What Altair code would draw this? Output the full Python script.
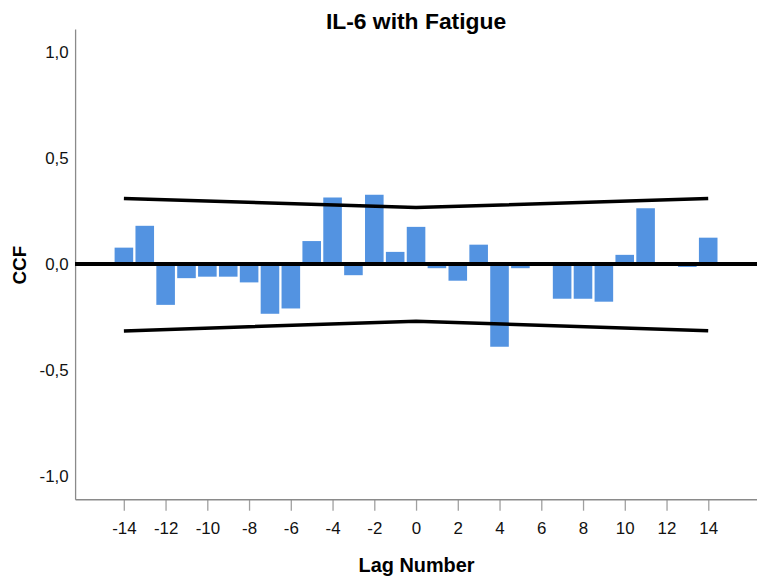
import altair as alt
import pandas as pd

lags = list(range(-14, 15))
ccf = [0.078, 0.181, -0.192, -0.066, -0.059, -0.059, -0.086, -0.234, -0.209,
       0.109, 0.315, -0.052, 0.328, 0.058, 0.176, -0.019, -0.078, 0.092,
       -0.390, -0.019, 0.0, -0.163, -0.163, -0.177, 0.044, 0.264, 0.0,
       -0.013, 0.125]

ci_lags = [-14, 0, 14]
ci_upper = [0.310, 0.267, 0.310]
ci_lower = [-0.315, -0.269, -0.314]

bars_df = pd.DataFrame({"lag": lags, "ccf": ccf})
ci_df = pd.DataFrame({
    "lag": ci_lags + ci_lags,
    "value": ci_upper + ci_lower,
    "bound": ["UCL"] * 3 + ["LCL"] * 3,
})

FONT = "Liberation Sans"

x_scale = alt.Scale(domain=[-16.1, 16.1], nice=False, zero=False)
y_scale = alt.Scale(domain=[-1.109, 1.109], nice=False)

x_axis = alt.Axis(
    values=list(range(-14, 15, 2)),
    title="Lag Number",
    titleFont=FONT, titleFontSize=20, titleFontWeight="bold", titleColor="black",
    titleY=73, titleBaseline="alphabetic",
    labelFont=FONT, labelFontSize=17, labelColor="#111111",
    labelExpr="datum.value + ''",
    labelPadding=10,
    tickSize=11, tickColor="#a0a0a0", tickWidth=1.3,
    domainColor="#8a8a8a", domainWidth=1.3,
    grid=False,
)

y_axis = alt.Axis(
    values=[-1.0, -0.5, 0.0, 0.5, 1.0],
    title="CCF",
    titleFont=FONT, titleFontSize=19, titleFontWeight="bold", titleColor="black",
    titleAngle=270, titleAlign="center", titleBaseline="alphabetic",
    titleX=-50, titleY=237,
    labelFont=FONT, labelFontSize=17, labelColor="#111111",
    labelExpr="(datum.value < 0 ? '-' : '') + replace(format(abs(datum.value), '.1f'), '.', ',')",
    labelPadding=7,
    ticks=False,
    domainColor="#8a8a8a", domainWidth=1.3,
    grid=False,
)

bars = alt.Chart(bars_df).mark_bar(size=18.7, color="#5393e1").encode(
    x=alt.X("lag:Q", scale=x_scale, axis=x_axis),
    y=alt.Y("ccf:Q", scale=y_scale, axis=y_axis),
)

zero = alt.Chart(bars_df).mark_rule(color="black", strokeWidth=3).encode(
    y=alt.datum(0),
)

ci = alt.Chart(ci_df).mark_line(color="black", strokeWidth=3.5).encode(
    x=alt.X("lag:Q", scale=x_scale),
    y=alt.Y("value:Q", scale=y_scale),
    detail="bound:N",
)

chart = alt.layer(bars, zero, ci).properties(
    width=686,
    height=473,
    title=alt.TitleParams(
        "IL-6 with Fatigue", font=FONT, fontSize=23, fontWeight="bold",
        color="black", anchor="middle", offset=4, dy=9,
    ),
    autosize=alt.AutoSizeParams(type="none"),
    padding={"left": 67.5, "top": 19.5, "right": 0, "bottom": 77},
).configure_view(strokeWidth=0)

chart.save("out.html", embed_options={"renderer": "svg", "actions": False})
